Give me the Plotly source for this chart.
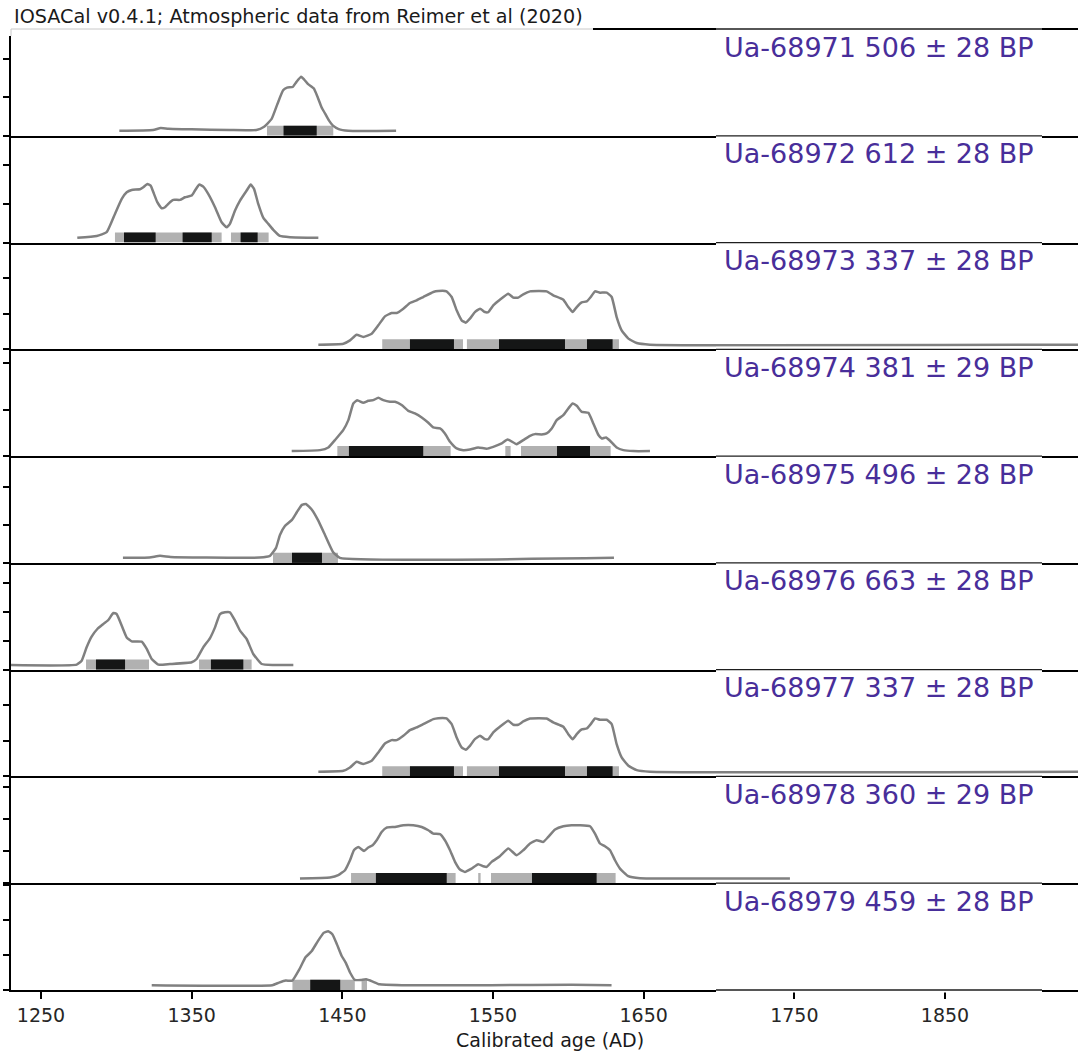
"""Stacked radiocarbon calibration plot (IOSACal style) rebuilt with Plotly."""
import plotly.graph_objects as go
from plotly.subplots import make_subplots

# ----------------- data -----------------
TITLE = "IOSACal v0.4.1; Atmospheric data from Reimer et al (2020)"
LABELS = [
    "Ua-68971 506 ± 28 BP",
    "Ua-68972 612 ± 28 BP",
    "Ua-68973 337 ± 28 BP",
    "Ua-68974 381 ± 29 BP",
    "Ua-68975 496 ± 28 BP",
    "Ua-68976 663 ± 28 BP",
    "Ua-68977 337 ± 28 BP",
    "Ua-68978 360 ± 29 BP",
    "Ua-68979 459 ± 28 BP",
]
X_TICKS = [1250, 1350, 1450, 1550, 1650, 1750, 1850]
X_TITLE = "Calibrated age (AD)"

# probability curves (calendar year AD, relative density in panel units)
P1_YEAR = [1302.0, 1324.4, 1329.5, 1334.6, 1349.8, 1375.2, 1393.0, 1398.1, 1403.1, 1407.0,
           1410.7, 1413.3, 1417.1, 1419.6, 1422.7, 1424.7, 1427.3, 1431.1, 1433.6, 1436.2,
           1438.7, 1441.2, 1443.8, 1447.6, 1454.0, 1485.7]
P1_DENS = [0.047, 0.054, 0.073, 0.066, 0.060, 0.054, 0.054, 0.085, 0.158, 0.300,
           0.426, 0.451, 0.457, 0.505, 0.552, 0.527, 0.483, 0.442, 0.363, 0.268,
           0.205, 0.142, 0.095, 0.063, 0.047, 0.047]

P2_YEAR = [1274.1, 1287.0, 1293.6, 1299.1, 1303.6, 1306.9, 1310.2, 1315.7, 1317.9, 1320.6,
           1322.8, 1325.0, 1327.2, 1330.1, 1332.3, 1335.6, 1337.8, 1342.3, 1345.6, 1350.0,
           1352.2, 1355.1, 1357.7, 1361.0, 1365.5, 1369.9, 1373.2, 1375.4, 1378.8, 1382.1,
           1386.5, 1389.2, 1391.4, 1394.2, 1397.6, 1400.9, 1404.2, 1408.6, 1415.3, 1434.1]
P2_DENS = [0.044, 0.062, 0.097, 0.268, 0.409, 0.471, 0.493, 0.499, 0.518, 0.549,
           0.534, 0.456, 0.378, 0.321, 0.331, 0.378, 0.400, 0.400, 0.424, 0.440,
           0.487, 0.543, 0.524, 0.456, 0.331, 0.190, 0.143, 0.175, 0.300, 0.393,
           0.487, 0.543, 0.503, 0.362, 0.231, 0.175, 0.119, 0.062, 0.050, 0.044]

P3_YEAR = [1434.1, 1450.7, 1455.1, 1459.5, 1463.9, 1469.5, 1473.9, 1478.3, 1482.7, 1486.1,
           1490.5, 1494.9, 1499.3, 1503.7, 1510.4, 1513.7, 1519.2, 1522.6, 1525.9, 1529.2,
           1531.9, 1534.7, 1538.0, 1541.4, 1544.7, 1546.9, 1550.2, 1554.6, 1560.2, 1563.5,
           1566.8, 1570.1, 1574.6, 1585.6, 1590.0, 1596.7, 1600.0, 1602.9, 1605.6, 1608.9,
           1612.2, 1614.9, 1617.7, 1621.0, 1625.5, 1628.8, 1632.1, 1635.4, 1639.9, 1645.4,
           1654.2, 1945.0]
P3_DENS = [0.044, 0.053, 0.084, 0.137, 0.116, 0.147, 0.225, 0.309, 0.340, 0.340,
           0.381, 0.434, 0.459, 0.490, 0.537, 0.546, 0.543, 0.490, 0.365, 0.272,
           0.250, 0.287, 0.349, 0.381, 0.349, 0.349, 0.412, 0.465, 0.521, 0.484,
           0.484, 0.515, 0.543, 0.543, 0.506, 0.465, 0.396, 0.349, 0.396, 0.440,
           0.449, 0.490, 0.543, 0.531, 0.531, 0.490, 0.302, 0.178, 0.100, 0.059,
           0.044, 0.044]

P4_YEAR = [1416.4, 1435.2, 1440.7, 1445.1, 1450.6, 1454.0, 1457.3, 1459.9, 1463.9, 1467.2,
           1470.5, 1473.9, 1477.2, 1481.6, 1485.0, 1489.4, 1493.8, 1498.2, 1502.7, 1507.1,
           1510.4, 1514.8, 1518.1, 1521.5, 1525.9, 1530.3, 1534.7, 1540.2, 1545.8, 1550.2,
           1555.8, 1559.7, 1565.7, 1570.1, 1574.6, 1577.9, 1582.3, 1585.6, 1589.0, 1592.3,
           1596.7, 1600.0, 1602.9, 1605.6, 1608.9, 1613.3, 1616.6, 1620.0, 1622.2, 1625.0,
           1627.7, 1632.1, 1636.5, 1643.2, 1654.2]
P4_DENS = [0.047, 0.056, 0.081, 0.150, 0.243, 0.337, 0.493, 0.524, 0.499, 0.518,
           0.524, 0.546, 0.524, 0.509, 0.509, 0.478, 0.424, 0.400, 0.362, 0.312,
           0.268, 0.259, 0.212, 0.134, 0.072, 0.056, 0.062, 0.081, 0.069, 0.087,
           0.119, 0.156, 0.112, 0.150, 0.190, 0.206, 0.203, 0.212, 0.259, 0.337,
           0.384, 0.446, 0.493, 0.471, 0.415, 0.405, 0.306, 0.197, 0.165, 0.175,
           0.144, 0.081, 0.056, 0.047, 0.047]

P5_YEAR = [1304.4, 1322.0, 1329.0, 1336.0, 1360.0, 1395.0, 1402.0, 1406.0, 1408.6, 1411.9,
           1416.6, 1419.9, 1423.2, 1425.9, 1429.9, 1433.8, 1438.5, 1443.8, 1448.4, 1630.3]
P5_DENS = [0.047, 0.050, 0.066, 0.055, 0.050, 0.050, 0.066, 0.140, 0.262, 0.346,
           0.403, 0.477, 0.543, 0.552, 0.496, 0.403, 0.262, 0.103, 0.047, 0.047]

P6_YEAR = [1225.0, 1273.7, 1277.0, 1280.3, 1283.6, 1287.4, 1291.4, 1294.7, 1298.0, 1300.2,
           1303.6, 1306.9, 1310.2, 1316.8, 1320.2, 1323.5, 1327.9, 1335.6, 1350.0, 1353.3,
           1357.7, 1362.2, 1365.5, 1368.8, 1372.1, 1375.4, 1378.8, 1382.1, 1386.5, 1390.9,
           1396.5, 1404.2, 1417.5]
P6_DENS = [0.044, 0.047, 0.084, 0.209, 0.309, 0.381, 0.428, 0.465, 0.531, 0.521,
           0.412, 0.302, 0.265, 0.262, 0.194, 0.100, 0.047, 0.053, 0.069, 0.100,
           0.209, 0.296, 0.396, 0.521, 0.537, 0.537, 0.459, 0.365, 0.287, 0.147,
           0.053, 0.044, 0.044]

P8_YEAR = [1421.9, 1441.8, 1447.3, 1451.8, 1455.1, 1457.7, 1460.6, 1464.4, 1467.2, 1470.1,
           1472.8, 1476.1, 1479.4, 1485.0, 1490.5, 1497.1, 1502.7, 1507.1, 1510.4, 1514.8,
           1518.1, 1521.5, 1524.8, 1528.1, 1531.4, 1535.8, 1540.2, 1543.6, 1545.8, 1549.1,
           1554.6, 1560.2, 1565.7, 1570.1, 1574.6, 1579.0, 1583.4, 1586.7, 1591.2, 1596.7,
           1602.2, 1607.7, 1614.4, 1617.7, 1621.0, 1624.3, 1627.7, 1631.0, 1634.3, 1639.8,
           1647.6, 1674.1, 1747.1]
P8_DENS = [0.044, 0.053, 0.075, 0.122, 0.215, 0.309, 0.340, 0.302, 0.334, 0.356,
           0.403, 0.480, 0.521, 0.527, 0.543, 0.543, 0.527, 0.496, 0.465, 0.459,
           0.403, 0.309, 0.200, 0.128, 0.106, 0.137, 0.178, 0.159, 0.153, 0.200,
           0.253, 0.325, 0.262, 0.309, 0.372, 0.403, 0.387, 0.434, 0.503, 0.534,
           0.543, 0.543, 0.534, 0.465, 0.372, 0.346, 0.309, 0.215, 0.137, 0.066,
           0.047, 0.044, 0.044]

P9_YEAR = [1323.5, 1403.5, 1408.0, 1412.4, 1416.8, 1421.3, 1425.7, 1429.6, 1433.7, 1437.6,
           1440.6, 1443.5, 1446.5, 1449.5, 1452.4, 1455.4, 1458.3, 1462.2, 1465.8, 1470.2,
           1474.7, 1489.5, 1548.7, 1602.0, 1628.7]
P9_DENS = [0.045, 0.045, 0.069, 0.088, 0.088, 0.189, 0.308, 0.362, 0.456, 0.535,
           0.551, 0.520, 0.425, 0.321, 0.252, 0.157, 0.094, 0.094, 0.100, 0.079,
           0.053, 0.045, 0.045, 0.050, 0.045]

# 95.4% (2 sigma) and 68.2% (1 sigma) ranges, AD
P1_SIG2 = [(1400.0, 1444.0)]
P1_SIG1 = [(1411.0, 1433.0)]
P2_SIG2 = [(1299.1, 1369.9), (1376.1, 1401.1)]
P2_SIG1 = [(1305.1, 1326.1), (1344.0, 1363.3), (1382.5, 1393.8)]
P3_SIG2 = [(1476.5, 1530.1), (1532.7, 1633.6)]
P3_SIG1 = [(1494.9, 1524.1), (1554.0, 1597.8), (1612.4, 1629.4)]
P4_SIG2 = [(1446.7, 1521.9), (1558.2, 1561.7), (1568.6, 1628.1)]
P4_SIG1 = [(1454.4, 1503.7), (1592.5, 1614.4)]
P5_SIG2 = [(1404.0, 1447.1)]
P5_SIG1 = [(1416.6, 1436.5)]
P6_SIG2 = [(1279.9, 1321.7), (1354.9, 1389.8)]
P6_SIG1 = [(1286.5, 1305.8), (1362.8, 1384.3)]
P8_SIG2 = [(1455.8, 1525.2), (1540.2, 1541.8), (1548.7, 1631.4)]
P8_SIG1 = [(1472.3, 1519.3), (1575.9, 1618.8)]
P9_SIG2 = [(1416.9, 1458.3), (1462.8, 1466.4)]
P9_SIG1 = [(1428.7, 1448.6)]

# density tick spacing per panel (in panel units)
TICK_STEP = [0.36, 0.365, 0.333, 0.435, 0.356, 0.272, 0.333, 0.30, 0.328]

PANELS = [
    (P1_YEAR, P1_DENS, P1_SIG2, P1_SIG1),
    (P2_YEAR, P2_DENS, P2_SIG2, P2_SIG1),
    (P3_YEAR, P3_DENS, P3_SIG2, P3_SIG1),
    (P4_YEAR, P4_DENS, P4_SIG2, P4_SIG1),
    (P5_YEAR, P5_DENS, P5_SIG2, P5_SIG1),
    (P6_YEAR, P6_DENS, P6_SIG2, P6_SIG1),
    (P3_YEAR, P3_DENS, P3_SIG2, P3_SIG1),   # same date as Ua-68973
    (P8_YEAR, P8_DENS, P8_SIG2, P8_SIG1),
    (P9_YEAR, P9_DENS, P9_SIG2, P9_SIG1),
]

# ----------------- style -----------------
W, H = 1078, 1053
ML, MR, MT, MB = 11, 0, 29, 63
X_RANGE = [1230.1, 1938.3]
FONT = "DejaVu Sans"
CURVE = "#808080"
SIG2_COLOR = "#b1b1b1"
SIG1_COLOR = "#151616"
LABEL_COLOR = "#482e9a"
BAR_H = 0.095

PW = W - ML - MR
PH = H - MT - MB
N = len(PANELS)


def px_x(px):
    return (px - ML) / PW


def px_y(py):
    return (H - MB - py) / PH


fig = make_subplots(rows=N, cols=1, shared_xaxes=True, vertical_spacing=0)

for i, (yrs, dens, sig2, sig1) in enumerate(PANELS, start=1):
    fig.add_trace(go.Scatter(
        x=yrs, y=dens, mode="lines",
        line=dict(color=CURVE, width=2.5, shape="spline", smoothing=0.4),
        hoverinfo="skip", showlegend=False,
    ), row=i, col=1)
    for rng, color in ((sig2, SIG2_COLOR), (sig1, SIG1_COLOR)):
        fig.add_trace(go.Bar(
            orientation="h", base=[a for a, b in rng], x=[b - a for a, b in rng],
            y=[BAR_H / 2] * len(rng), width=BAR_H,
            marker=dict(color=color, line=dict(width=0)),
            hoverinfo="skip", showlegend=False,
        ), row=i, col=1)
    fig.update_yaxes(range=[0, 1], tick0=0, dtick=TICK_STEP[i - 1], row=i, col=1)
    fig.add_annotation(
        text=LABELS[i - 1], showarrow=False, xref="paper", x=px_x(1036),
        xanchor="right", yref="paper", y=px_y(MT + (i - 1) * PH / N + 18),
        yanchor="middle", font=dict(family=FONT, size=27, color=LABEL_COLOR),
    )

fig.update_xaxes(range=X_RANGE, showline=True, mirror=False, linewidth=2,
                 linecolor="black", showgrid=False, zeroline=False, ticks="",
                 automargin=False)
fig.update_xaxes(tickvals=X_TICKS, ticks="outside", ticklen=7, tickwidth=1.5,
                 tickcolor="black", showticklabels=True,
                 tickfont=dict(family=FONT, size=19, color="#262626"), row=N, col=1)
fig.update_yaxes(showline=True, linewidth=2, linecolor="black", showgrid=False,
                 zeroline=False, showticklabels=False, ticks="outside", ticklen=6,
                 tickwidth=1.5, tickcolor="black", automargin=False)

shapes = [
    # top spine of the first panel, right of the title box
    dict(type="line", xref="paper", yref="paper", x0=px_x(593), x1=1.0, y0=1, y1=1,
         line=dict(color="black", width=2)),
]
# label boxes partly mask the panel separators
for k in range(N + 1):
    yb = k / N
    for color, width in (("white", 5), ("#1e1e1e", 1.3)):
        shapes.append(dict(type="line", xref="paper", yref="paper", x0=px_x(716), x1=px_x(1042),
                           y0=yb, y1=yb, line=dict(color=color, width=width)))
# title box
for color, width in (("white", 4), ("#c8c8c8", 1)):
    shapes.append(dict(type="line", xref="paper", yref="paper", x0=0, x1=px_x(593),
                       y0=1, y1=1, line=dict(color=color, width=width)))
    shapes.append(dict(type="line", xref="paper", yref="paper", x0=0, x1=0,
                       y0=1, y1=px_y(36), line=dict(color=color, width=width)))

fig.add_annotation(text=TITLE, showarrow=False, xref="paper", x=px_x(12), xanchor="left",
                   yref="paper", y=px_y(17), yanchor="middle",
                   font=dict(family=FONT, size=19.2, color="#1a1a1a"))
fig.add_annotation(text=X_TITLE, showarrow=False, xref="paper", x=px_x(550), xanchor="center",
                   yref="paper", y=px_y(1040), yanchor="middle",
                   font=dict(family=FONT, size=19, color="#1a1a1a"))

fig.update_layout(
    width=W, height=H, margin=dict(l=ML, r=MR, t=MT, b=MB, autoexpand=False),
    paper_bgcolor="white", plot_bgcolor="rgba(0,0,0,0)", barmode="overlay",
    shapes=shapes, font=dict(family=FONT),
)

fig.write_html("out.html", config={"displayModeBar": False},
               post_script="document.body.style.margin='0';")
